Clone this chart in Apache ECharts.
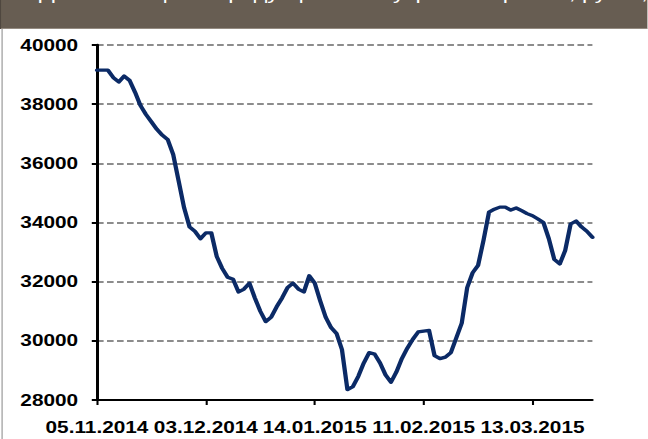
<!DOCTYPE html>
<html>
<head>
<meta charset="utf-8">
<script src="https://cdn.jsdelivr.net/npm/echarts@6/dist/echarts.min.js"></script>
<style>
html,body{margin:0;padding:0;background:#fff;overflow:hidden;width:648px;height:439px;}
#wrap{width:648px;height:439px;overflow:hidden;position:relative;}
#chart{width:498.46px;height:439px;transform:scaleX(1.3);transform-origin:0 0;}
</style>
</head>
<body>
<div id="wrap"><div id="chart"></div></div>
<script>
const headerTitle = "Динамика цены продукции на внутреннем рынке, руб./т, с учётом доставки";

const dates = [
  "05.11.2014","06.11.2014","07.11.2014","10.11.2014","11.11.2014","12.11.2014","13.11.2014","14.11.2014","17.11.2014","18.11.2014",
  "19.11.2014","20.11.2014","21.11.2014","24.11.2014","25.11.2014","26.11.2014","27.11.2014","28.11.2014","01.12.2014","02.12.2014",
  "03.12.2014","04.12.2014","05.12.2014","08.12.2014","09.12.2014","10.12.2014","11.12.2014","12.12.2014","15.12.2014","16.12.2014",
  "17.12.2014","18.12.2014","19.12.2014","22.12.2014","23.12.2014","24.12.2014","25.12.2014","26.12.2014","29.12.2014","30.12.2014",
  "14.01.2015","15.01.2015","16.01.2015","19.01.2015","20.01.2015","21.01.2015","22.01.2015","23.01.2015","26.01.2015","27.01.2015",
  "28.01.2015","29.01.2015","30.01.2015","02.02.2015","03.02.2015","04.02.2015","05.02.2015","06.02.2015","09.02.2015","10.02.2015",
  "11.02.2015","12.02.2015","13.02.2015","16.02.2015","17.02.2015","18.02.2015","19.02.2015","20.02.2015","24.02.2015","25.02.2015",
  "26.02.2015","27.02.2015","02.03.2015","03.03.2015","04.03.2015","05.03.2015","06.03.2015","10.03.2015","11.03.2015","12.03.2015",
  "13.03.2015","16.03.2015","17.03.2015","18.03.2015","19.03.2015","20.03.2015","23.03.2015","24.03.2015","25.03.2015","26.03.2015",
  "27.03.2015","30.03.2015"
];

const values = [
  39150,39150,39150,38900,38750,38950,38800,38400,37950,37650,
  37400,37150,36950,36800,36300,35400,34500,33850,33700,33450,
  33650,33650,32850,32450,32150,32080,31650,31750,31950,31450,
  31000,30650,30800,31150,31450,31800,31950,31750,31650,32200,
  31950,31350,30800,30450,30250,29700,28350,28450,28800,29250,
  29600,29550,29250,28850,28600,28950,29400,29750,30050,30300,
  30330,30350,29500,29400,29450,29600,30100,30600,31800,32300,
  32550,33400,34350,34450,34520,34520,34420,34490,34400,34300,
  34230,34120,34000,33450,32750,32600,33050,33950,34050,33850,
  33700,33500
];

const yMin = 28000, yMax = 40000, yStep = 2000;
const labelEvery = 20;

const W = 498.46;
const chart = echarts.init(document.getElementById('chart'), null, {renderer: 'svg'});
const font = '"Liberation Sans", Arial, sans-serif';

chart.setOption({
  animation: false,
  backgroundColor: '#ffffff',
  grid: {left: 74.6, right: 42.3, top: 45, bottom: 39, containLabel: false},
  xAxis: {
    type: 'category',
    data: dates,
    boundaryGap: false,
    axisLine: {show: true, lineStyle: {color: '#000', width: 2}},
    axisTick: {show: true, interval: labelEvery - 1, length: 5, lineStyle: {color: '#000', width: 1.6}},
    axisLabel: {
      interval: labelEvery - 1, margin: 19, color: '#000', fontSize: 16, fontWeight: 'bold', fontFamily: font,
      hideOverlap: false
    },
    splitLine: {show: false}
  },
  yAxis: {
    type: 'value',
    min: yMin, max: yMax, interval: yStep,
    axisLine: {show: true, lineStyle: {color: '#000', width: 2.3}},
    axisTick: {show: true, length: 4, lineStyle: {color: '#000', width: 2}},
    axisLabel: {margin: 14.5, color: '#000', fontSize: 16, fontWeight: 'bold', fontFamily: font, formatter: v => String(v)},
    splitLine: {show: true, lineStyle: {color: '#8c8c8c', width: 2, type: [5.1, 2.6]}}
  },
  series: [{
    type: 'line',
    data: values,
    showSymbol: false,
    symbol: 'none',
    lineStyle: {color: '#0b2a66', width: 3.3, join: 'round', cap: 'round'},
    z: 5
  }],
  graphic: [
    {type: 'rect', shape: {x: 0, y: 0, width: W, height: 28.5}, style: {fill: '#675d52'}, z: 10},
    {type: 'line', shape: {x1: 0, y1: 28.5, x2: W, y2: 28.5}, style: {stroke: '#948b81', lineWidth: 1}, z: 11},
    {type: 'line', shape: {x1: 0.4, y1: 0, x2: 0.4, y2: 29}, style: {stroke: '#4f473f', lineWidth: 0.8}, z: 11},
    {type: 'line', shape: {x1: 1.6, y1: 29, x2: 1.6, y2: 439}, style: {stroke: '#8a8a8a', lineWidth: 0.8}, z: 11},
    {type: 'text', x: 30, y: 1.5, style: {text: headerTitle, fill: '#ffffff', font: '18px ' + font, verticalAlign: 'bottom', align: 'left'}, z: 12}
  ]
});
</script>
</body>
</html>
